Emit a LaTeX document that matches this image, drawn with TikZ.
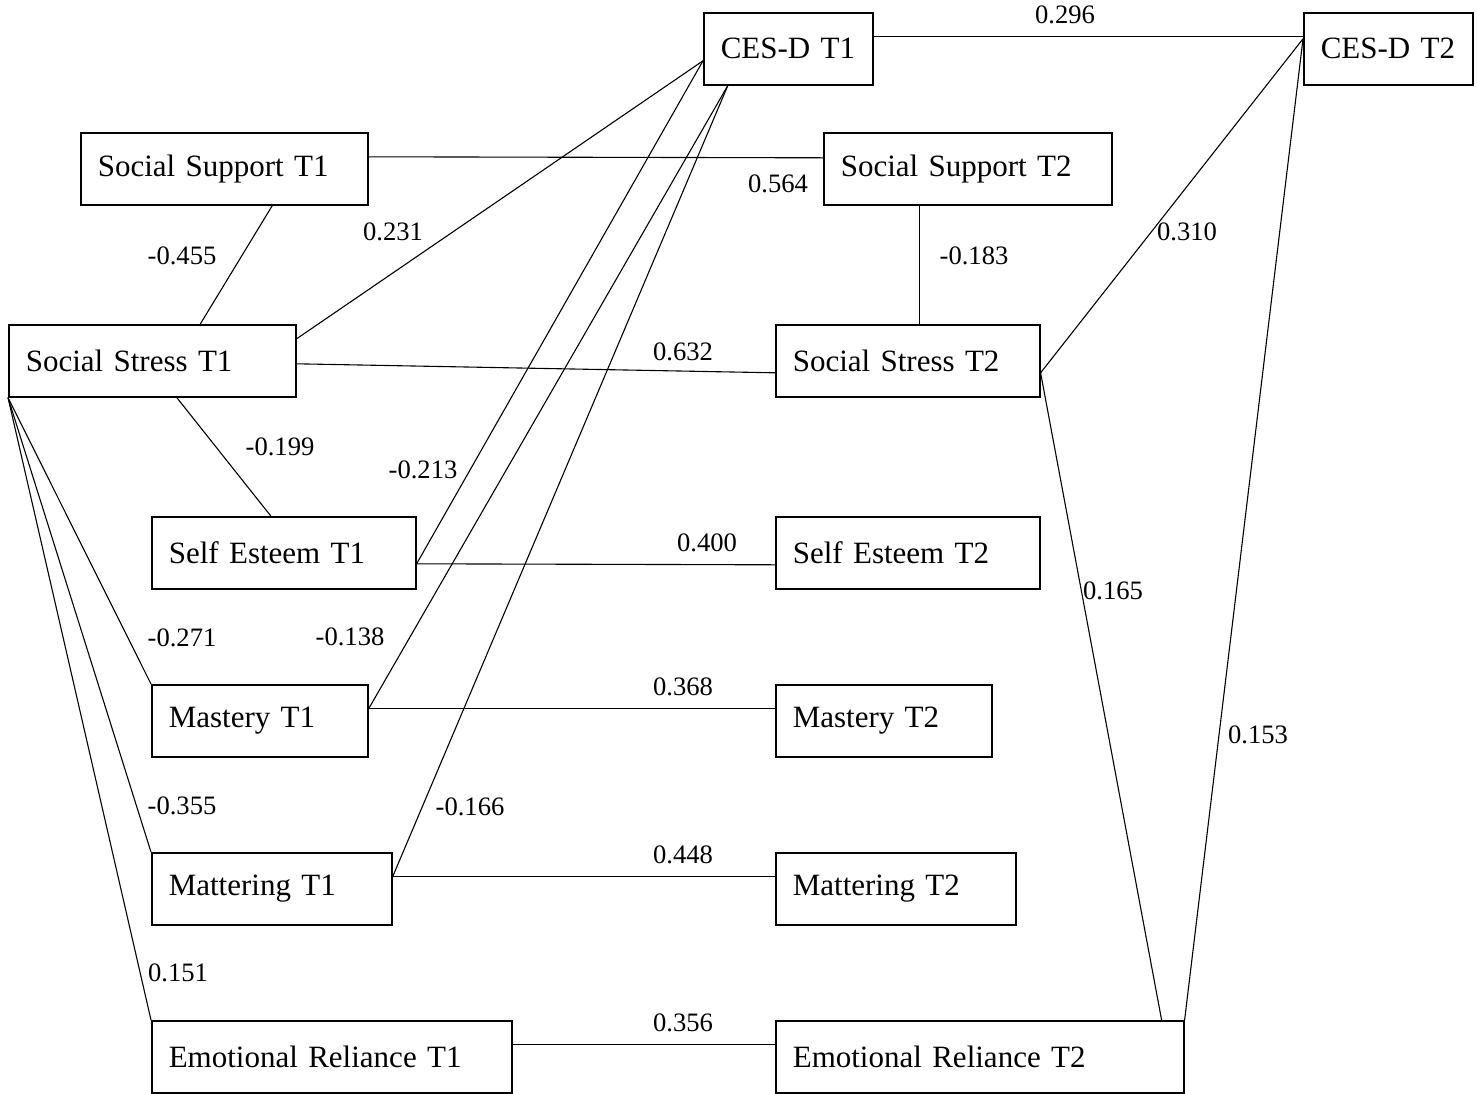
\documentclass[tikz,border=0pt]{standalone}
\usepackage{fontspec}
\setmainfont{Liberation Serif}
\tikzset{
    var/.style={draw, line width=0.8pt, anchor=north west, minimum height=36pt,
        inner xsep=8.5pt, inner ysep=0pt, text width=#1, align=left,
        font=\fontsize{15.5}{18}\selectfont},
    link/.style={line width=0.55pt},
    coef/.style={inner sep=0pt, font=\fontsize{13.3}{16}\selectfont}
}

\begin{document}
\begin{tikzpicture}[x=0.5pt, y=-0.5pt]
        \useasboundingbox (0,0) rectangle (1477,1093);
        % measures at T1
        \node[var=67.5pt] (cesd1) at (703,12) {CES-D T1};
        \node[var=126.5pt] (sup1) at (80,132) {Social Support T1};
        \node[var=126.5pt] (str1) at (8,324) {Social Stress T1};
        \node[var=115pt] (est1) at (151,516) {Self Esteem T1};
        \node[var=91pt] (mas1) at (151,684) {Mastery T1};
        \node[var=103pt] (mat1) at (151,852) {Mattering T1};
        \node[var=163pt] (rel1) at (151,1020) {Emotional Reliance T1};
        % measures at T2
        \node[var=67.5pt] (cesd2) at (1303,12) {CES-D T2};
        \node[var=127pt] (sup2) at (823,132) {Social Support T2};
        \node[var=115pt] (str2) at (775,324) {Social Stress T2};
        \node[var=115pt] (est2) at (775,516) {Self Esteem T2};
        \node[var=91pt] (mas2) at (775,684) {Mastery T2};
        \node[var=103pt] (mat2) at (775,852) {Mattering T2};
        \node[var=187pt] (rel2) at (775,1020) {Emotional Reliance T2};

        \begin{scope}[link]
            \draw ([yshift=6pt]cesd1.east) -- ([yshift=6pt]cesd2.west);
            \draw ([yshift=6pt]sup1.east) -- ([yshift=5.5pt]sup2.west);
            \draw ([xshift=24pt]sup1.south) -- ([xshift=24pt]str1.north);
            \draw ([xshift=-24pt]sup2.south) -- ([xshift=6pt]str2.north);
            \draw ([yshift=11pt]str1.east) -- ([yshift=-6pt]cesd1.west);
            \draw ([yshift=-1.5pt]str1.east) -- ([yshift=-6pt]str2.west);
            \draw ([xshift=12.25pt]str1.south) -- ([xshift=-6.5pt]est1.north);
            \draw (str1.south west) -- (mas1.north west);
            \draw (str1.south west) -- (mat1.north west);
            \draw (str1.south west) -- (rel1.north west);
            \draw ([yshift=-5.5pt]est1.east) -- ([yshift=-6pt]cesd1.west);
            \draw ([yshift=-5.5pt]est1.east) -- ([yshift=-6pt]est2.west);
            \draw ([yshift=6pt]mas1.east) -- ([xshift=-30.25pt]cesd1.south);
            \draw ([yshift=6pt]mas1.east) -- ([yshift=6pt]mas2.west);
            \draw ([yshift=6pt]mat1.east) -- ([xshift=-30.25pt]cesd1.south);
            \draw ([yshift=6pt]mat1.east) -- ([yshift=6pt]mat2.west);
            \draw ([yshift=6pt]rel1.east) -- ([yshift=6pt]rel2.west);
            \draw ([yshift=-6pt]str2.east) -- ([yshift=5pt]cesd2.west);
            \draw ([yshift=-6pt]str2.east) -- ([xshift=-11.5pt]rel2.north east);
            \draw (rel2.north east) -- ([yshift=5pt]cesd2.west);
        \end{scope}

        % path coefficients
        \node[coef] (c-cesd) at (1065,15) {0.296};
        \node[coef] (c-sup) at (778,184) {0.564};
        \node[coef] (c-sup1) at (182,256) {-0.455};
        \node[coef] (c-sup2) at (974,256) {-0.183};
        \node[coef] (c-str1) at (393,232) {0.231};
        \node[coef] (c-str2) at (1187,232) {0.310};
        \node[coef] (c-str) at (683,352) {0.632};
        \node[coef] (c-est1) at (280,447) {-0.199};
        \node[coef] (c-estd) at (423,470) {-0.213};
        \node[coef] (c-est) at (707,543) {0.400};
        \node[coef] (c-rel2) at (1113,591) {0.165};
        \node[coef] (c-mas1) at (182,638) {-0.271};
        \node[coef] (c-masd) at (350,637) {-0.138};
        \node[coef] (c-mas) at (683,687) {0.368};
        \node[coef] (c-reld) at (1258,735) {0.153};
        \node[coef] (c-mat1) at (182,806) {-0.355};
        \node[coef] (c-matd) at (470,807) {-0.166};
        \node[coef] (c-mat) at (683,855) {0.448};
        \node[coef] (c-rel1) at (178,973) {0.151};
        \node[coef] (c-rel) at (683,1023) {0.356};
\end{tikzpicture}
\end{document}
